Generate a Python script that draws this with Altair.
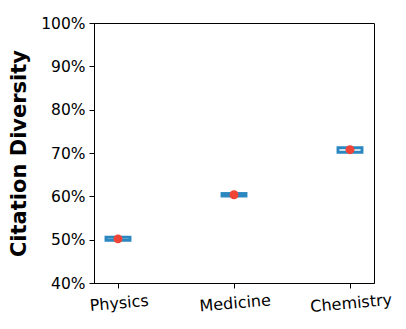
import altair as alt
import pandas as pd

categories = ["Physics", "Medicine", "Chemistry"]
q1 = [0.4988, 0.6007, 0.7017]
q3 = [0.5058, 0.6065, 0.7122]
median = [0.5018, 0.6036, 0.7077]

df = pd.DataFrame({"field": categories, "q1": q1, "q3": q3, "median": median})

xenc = alt.X("field:N", sort=categories, title=None,
             scale=alt.Scale(type="point", padding=0.2069),
             axis=alt.Axis(labelAngle=355, labelAlign="center", labelBaseline="top",
                           labelFontSize=16, labelColor="black", tickColor="black",
                           domainColor="black", tickSize=5, labelPadding=7, grid=False))

yscale = alt.Scale(domain=[0.4, 1.0], nice=False, zero=False)

boxes = alt.Chart(df).mark_bar(size=24, fill="white", stroke="#2b87c0", strokeWidth=2.9).encode(
    x=xenc,
    y=alt.Y("q1:Q", scale=yscale, title="Citation Diversity",
            axis=alt.Axis(format=".0%", values=[0.4, 0.5, 0.6, 0.7, 0.8, 0.9, 1.0],
                          labelFontSize=15.5, labelColor="black", tickColor="black",
                          domainColor="black", tickSize=5, labelPadding=4, grid=False,
                          titleFontSize=21, titleFontWeight="bold", titleColor="black",
                          titlePadding=11)),
    y2="q3:Q",
)

dots = alt.Chart(df).mark_circle(size=80, color="#f04436", opacity=1).encode(
    x=alt.X("field:N", sort=categories),
    y=alt.Y("median:Q", scale=yscale),
)

chart = alt.layer(boxes, dots).properties(
    width=280, height=260,
    autosize=alt.AutoSizeParams(type="none"),
    padding={"left": 86, "top": 15, "right": 24, "bottom": 38},
).configure(font="DejaVu Sans").configure_view(stroke="black", strokeWidth=1)

chart.save("out.html", embed_options={"renderer": "svg", "actions": False})
